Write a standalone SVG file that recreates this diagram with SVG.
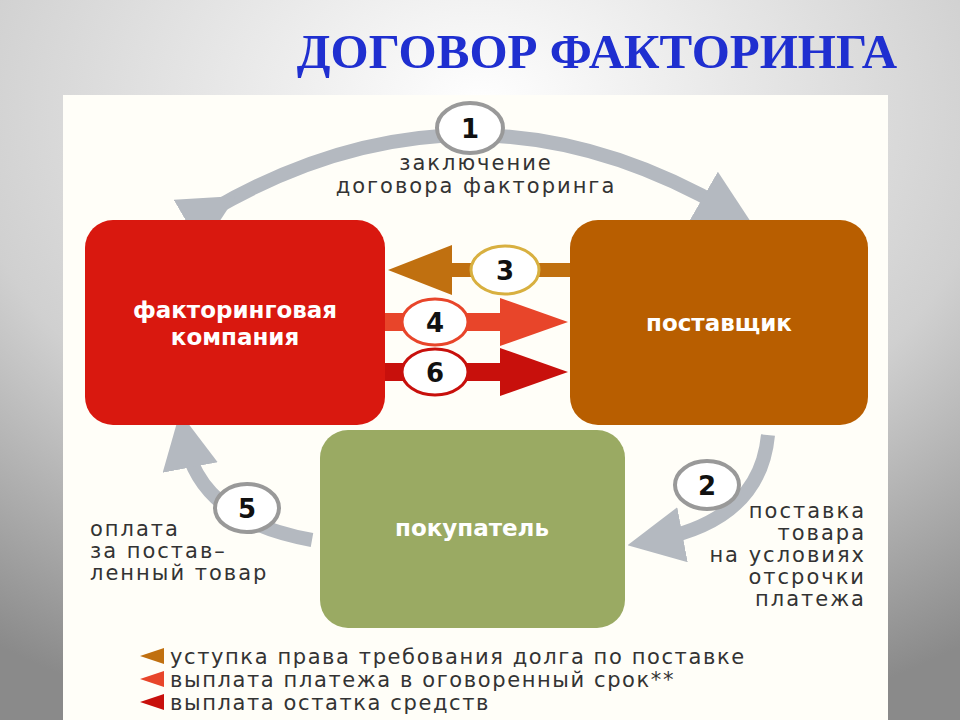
<svg xmlns="http://www.w3.org/2000/svg" width="960" height="720" viewBox="0 0 960 720">
<defs>
<radialGradient id="bg" cx="0.5" cy="0.15" r="0.9"><stop offset="0" stop-color="#ffffff"/><stop offset="0.6" stop-color="#d0d0d0"/><stop offset="1" stop-color="#8a8a8a"/></radialGradient>
<marker id="ga" viewBox="0 0 10 10" refX="5" refY="5" markerWidth="4" markerHeight="4" orient="auto"><path d="M0,0 L10,5 L0,10 z" fill="#b4b9c0"/></marker>
</defs>
<style>
.lbl{font-family:"DejaVu Sans",sans-serif;font-size:21px;fill:#333;letter-spacing:2px}
.box{font-family:"DejaVu Sans",sans-serif;font-weight:bold;font-size:23px;fill:#fff}
.num{font-family:"DejaVu Sans",sans-serif;font-weight:bold;font-size:26px;fill:#111}
.arc{fill:none;stroke:#b4b9c0;stroke-width:14}
.leg{font-family:"DejaVu Sans",sans-serif;font-size:21px;fill:#333;letter-spacing:1.6px}
</style>
<rect width="960" height="720" fill="url(#bg)"/>
<text x="597" y="68" text-anchor="middle" font-family="Liberation Serif,serif" font-weight="bold" font-size="49" fill="#1f2fd0">ДОГОВОР ФАКТОРИНГА</text>
<rect x="63" y="95" width="825" height="625" fill="#fffef8"/>
<g id="connectors">
<path class="arc" d="M212,210 Q470,60 728,210" marker-start="url(#ga)" marker-end="url(#ga)"/>
<path class="arc" d="M768,435 Q760,520 655,540" marker-end="url(#ga)"/>
<path class="arc" d="M312,540 Q200,520 185,440" marker-end="url(#ga)"/>
<rect x="450" y="263" width="120" height="14" fill="#c07010"/>
<polygon points="388,270 452,245 452,295" fill="#c07010"/>
<rect x="385" y="313" width="120" height="18" fill="#e8452a"/>
<polygon points="568,322 500,298 500,346" fill="#e8452a"/>
<rect x="385" y="363" width="120" height="18" fill="#c8100c"/>
<polygon points="568,372 500,348 500,396" fill="#c8100c"/>
</g>
<g id="n1"><ellipse cx="470" cy="128" rx="33" ry="25" fill="#fff" stroke="#999" stroke-width="4"/><text class="num" x="470" y="138" text-anchor="middle">1</text>
<text class="lbl" x="476" y="170" text-anchor="middle">заключение</text><text class="lbl" x="476" y="193" text-anchor="middle">договора факторинга</text></g>
<g id="factor"><rect x="85" y="220" width="300" height="205" rx="28" fill="#d9180f"/><text class="box" x="235" y="318" text-anchor="middle">факторинговая</text><text class="box" x="235" y="345" text-anchor="middle">компания</text></g>
<g id="supplier"><rect x="570" y="220" width="298" height="205" rx="28" fill="#b85e00"/><text class="box" x="719" y="331" text-anchor="middle">поставщик</text></g>
<g id="buyer"><rect x="320" y="430" width="305" height="198" rx="28" fill="#9aaa63"/><text class="box" x="472" y="536" text-anchor="middle">покупатель</text></g>
<g id="n3"><ellipse cx="505" cy="270" rx="34" ry="24" fill="#fff" stroke="#d8b040" stroke-width="3"/><text class="num" x="505" y="280" text-anchor="middle">3</text></g>
<g id="n4"><ellipse cx="435" cy="322" rx="33" ry="23" fill="#fff" stroke="#e8452a" stroke-width="3"/><text class="num" x="435" y="332" text-anchor="middle">4</text></g>
<g id="n6"><ellipse cx="435" cy="372" rx="33" ry="23" fill="#fff" stroke="#c8100c" stroke-width="3"/><text class="num" x="435" y="382" text-anchor="middle">6</text></g>
<g id="n2"><ellipse cx="707" cy="485" rx="32" ry="24" fill="#fff" stroke="#999" stroke-width="4"/><text class="num" x="707" y="495" text-anchor="middle">2</text>
<text class="lbl" x="866" y="518" text-anchor="end">поставка</text><text class="lbl" x="866" y="540" text-anchor="end">товара</text><text class="lbl" x="866" y="562" text-anchor="end">на условиях</text><text class="lbl" x="866" y="584" text-anchor="end">отсрочки</text><text class="lbl" x="866" y="606" text-anchor="end">платежа</text></g>
<g id="n5"><ellipse cx="247" cy="508" rx="32" ry="24" fill="#fff" stroke="#999" stroke-width="4"/><text class="num" x="247" y="518" text-anchor="middle">5</text>
<text class="lbl" x="90" y="536">оплата</text><text class="lbl" x="90" y="558">за постав–</text><text class="lbl" x="90" y="580">ленный товар</text></g>
<g id="legend">
<polygon points="140,656 164,648 164,664" fill="#c07010"/><text class="leg" x="170" y="664">уступка права требования долга по поставке</text>
<polygon points="140,679 164,671 164,687" fill="#e8452a"/><text class="leg" x="170" y="687">выплата платежа в оговоренный срок**</text>
<polygon points="140,702 164,694 164,710" fill="#c8100c"/><text class="leg" x="170" y="710">выплата остатка средств</text>
</g>
</svg>
